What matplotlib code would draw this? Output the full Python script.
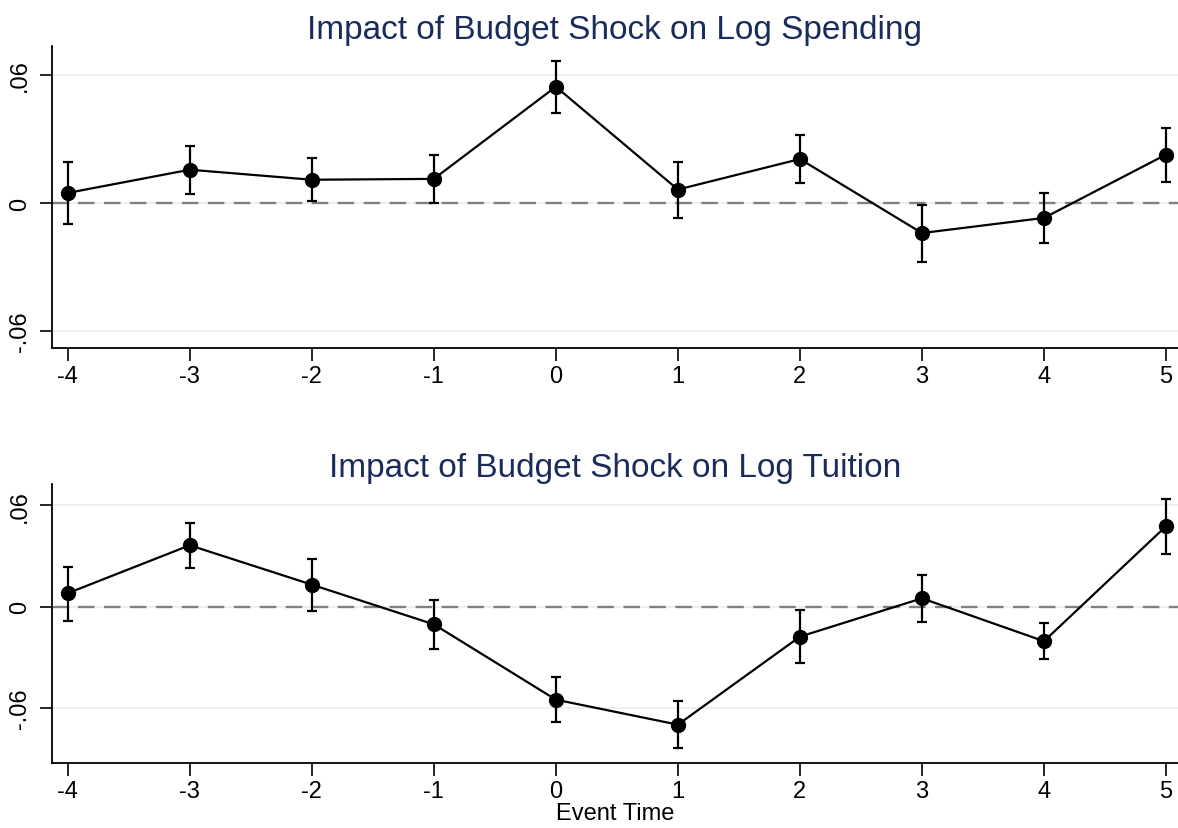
import numpy as np
import matplotlib
matplotlib.use('Agg')
import matplotlib.pyplot as plt

plt.rcParams['font.family'] = ['Liberation Sans', 'DejaVu Sans']

# ── 数据 ──
event_time = [-4, -3, -2, -1, 0, 1, 2, 3, 4, 5]

spend_coef = [0.0047, 0.0156, 0.0109, 0.0113, 0.0545, 0.0063, 0.0206, -0.0141, -0.0070, 0.0227]
spend_hi   = [0.0191, 0.0269, 0.0211, 0.0225, 0.0667, 0.0194, 0.0319, -0.0008, 0.0047, 0.0352]
spend_lo   = [-0.0098, 0.0041, 0.0008, 0.0000, 0.0422, -0.0070, 0.0094, -0.0275, -0.0189, 0.0097]

tuition_coef = [0.0079, 0.0363, 0.0130, -0.0105, -0.0551, -0.0699, -0.0178, 0.0049, -0.0205, 0.0476]
tuition_hi   = [0.0237, 0.0495, 0.0284, 0.0039, -0.0416, -0.0557, -0.0020, 0.0186, -0.0099, 0.0638]
tuition_lo   = [-0.0083, 0.0231, -0.0026, -0.0251, -0.0685, -0.0837, -0.0336, -0.0093, -0.0310, 0.0310]

ytick_vals = [-0.06, 0, 0.06]
ytick_labels = ['-.06', '0', '.06']

TITLE_COLOR = '#1a2b5c'
GRID_COLOR = '#e8eff1'


def draw_panel(ax, coef, lo, hi, title, ylim):
    x = np.array(event_time)
    coef = np.array(coef)
    lo = np.array(lo)
    hi = np.array(hi)
    for yv in ytick_vals:
        ax.axhline(yv, color=GRID_COLOR, lw=1.3, zorder=0)
    ax.axhline(0, color='#808080', lw=1.7, ls=(0, (7, 4)), zorder=1)
    ax.errorbar(x, coef, yerr=[coef - lo, hi - coef], fmt='none',
                ecolor='black', elinewidth=1.6, capsize=3.6, capthick=1.6, zorder=2)
    ax.plot(x, coef, color='black', lw=1.6, marker='o', ms=10, zorder=3)
    ax.set_xlim(-4.129, 5.098)
    ax.set_ylim(*ylim)
    ax.set_xticks(event_time)
    ax.set_xticklabels([str(v) for v in event_time], fontsize=17)
    ax.set_yticks(ytick_vals)
    ax.set_yticklabels(ytick_labels, fontsize=17, rotation=90, va='center')
    ax.tick_params(axis='both', direction='out', length=9, width=1.2, color='black')
    ax.tick_params(axis='x', pad=3)
    ax.tick_params(axis='y', pad=6)
    for s in ['top', 'right']:
        ax.spines[s].set_visible(False)
    for s in ['left', 'bottom']:
        ax.spines[s].set_linewidth(1.3)
    ax.set_title(title, fontsize=24, color=TITLE_COLOR, pad=6)


fig = plt.figure(figsize=(11.78, 8.29), dpi=100)
ax1 = fig.add_axes([0.0441, 0.579, 0.9559, 0.3643])
ax2 = fig.add_axes([0.0441, 0.0784, 0.9559, 0.3366])

draw_panel(ax1, spend_coef, spend_lo, spend_hi,
           'Impact of Budget Shock on Log Spending', (-0.068, 0.0736))
draw_panel(ax2, tuition_coef, tuition_lo, tuition_hi,
           'Impact of Budget Shock on Log Tuition', (-0.0926, 0.0726))
ax2.set_xlabel('Event Time', fontsize=17, labelpad=0)

fig.savefig('out.png', dpi=100)
